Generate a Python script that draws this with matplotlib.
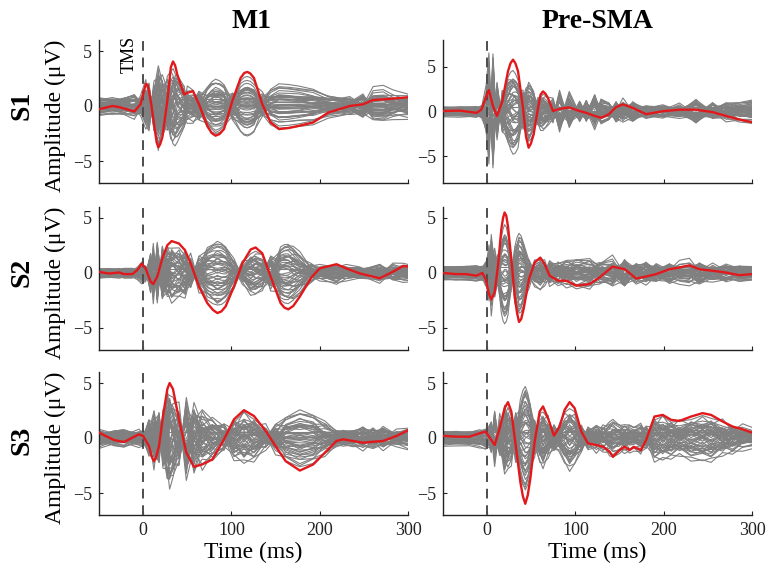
"""Butterfly plots of TMS-evoked potentials: M1 vs Pre-SMA for subjects S1-S3."""

import numpy as np
import matplotlib
matplotlib.use("Agg")
import matplotlib.pyplot as plt

plt.rcParams["font.family"] = ["Liberation Serif", "DejaVu Serif"]
plt.rcParams["axes.unicode_minus"] = True

# ---- data (time in ms, amplitude in uV) ----
# red = highlighted channel, spread = second gray component (channels mix both)
T_S1_M1 = [-50, -35, -27, -10, -3, 1, 3, 4.8, 6.6, 9.5, 12.3, 15.3, 17.2, 19.2, 21.7, 27.4,
           31.3, 33.8, 36.2, 38.7, 46.3, 50, 56.5, 63.3, 72.7, 77.5, 82, 86.5, 91.6, 101,
           110.4, 114.5, 118, 121.5, 125.5, 135, 144.4, 153.8, 165, 176.5, 192.5, 209.5, 234,
           249, 260.5, 272, 283, 300]
RED_S1_M1 = [-0.3, 0.0, -0.1, -0.5, 0.15, 1.4, 2.0, 1.95, 1.4, 0.0, -1.65, -3.3, -3.75, -3.5,
             -2.85, 0.45, 3.5, 4.05, 3.7, 2.85, 1.05, 1.2, 1.35, 0.15, -1.8, -2.45, -2.7, -2.55,
             -2.1, 0.45, 2.55, 3.0, 3.1, 2.95, 2.55, 0.15, -1.5, -2.1, -2.0, -1.8, -1.5, -0.6,
             0.0, 0.15, 0.55, 0.6, 0.67, 0.8]
SPREAD_S1_M1 = [0.2, 0.3, 0.2, -0.3, 0.4, 0.8, 1.0, 0.0, -1.3, 0.2, 1.3, 0.0, -1.2, 0.0, 1.0,
                2.2, 1.0, 0.3, -0.6, -1.2, -1.2, 0.8, 0.3, -0.9, 0.3, 0.2, 0.0, 0.1, 0.2, -0.7,
                0.3, 0.3, 0.3, 0.3, 0.2, 0.8, 0.2, 0.0, 0.0, 0.0, 0.2, 0.3, 0.4, -0.6, 1.1, 1.2,
                0.7, 0.2]

T_S1_PRE = [-50, -31, -12, -6.6, -1, 2, 6.6, 11.2, 17.2, 20.5, 23.6, 26.5, 29.3, 32, 35, 40.6,
            44, 47, 49.5, 52.7, 57.6, 60.5, 63.3, 66, 68.9, 74.6, 82, 93, 104.8, 112.3, 121.8,
            129, 138, 146, 153.8, 165, 180, 199, 217.8, 236.6, 255.4, 270.6, 285.6, 300]
RED_S1_PRE = [0.05, 0.1, -0.15, 0.2, 1.7, 2.4, 0.6, -0.5, 1.15, 2.9, 4.5, 5.4, 5.8, 5.4, 4.5,
              0.4, -2.8, -4.05, -3.6, -2.55, 0.4, 1.9, 2.25, 2.0, 1.5, 0.05, 0.3, 0.45, 0.05,
              -0.15, -0.5, -0.7, -0.3, 0.5, 0.8, 0.4, -0.3, 0.03, 0.2, 0.2, -0.07, -0.5, -0.9,
              -1.2]
SPREAD_S1_PRE = [0.0, 0.1, 0.2, -0.2, 2.0, 5.5, -6.0, 3.0, -1.8, 0.0, 1.0, 0.5, 0.0, -0.3, -0.5,
                 2.0, 0.8, 0.0, 0.3, 0.5, -1.2, -0.5, 0.0, 0.3, 0.5, 1.2, -2.0, 1.8, -0.8, 1.0,
                 -1.5, 1.0, 0.7, -0.7, 0.8, -0.7, 0.3, -0.3, 0.5, -1.0, 0.7, -0.4, 0.2, 0.0]

T_S2_M1 = [-50, -38.7, -27, -21.7, -12.3, -6.6, -1.5, 2.8, 8.5, 11.5, 16, 21.7, 27.4, 32.3,
           40.6, 47.4, 53.8, 63.3, 72.7, 79, 84, 88.5, 93.4, 102.9, 112.3, 121.8, 127.4, 135,
           144.4, 155.7, 160, 164.4, 170, 177.5, 190.7, 200, 219, 230, 245, 268, 283, 294.4,
           300]
RED_S2_M1 = [0.1, -0.05, 0.05, -0.1, -0.1, 0.27, 0.85, 0.42, -0.8, -1.0, -0.33, 1.33, 2.53, 2.9,
             2.68, 2.08, 0.87, -1.23, -2.74, -3.35, -3.64, -3.5, -3.04, -1.23, 0.87, 2.14, 2.32,
             1.78, -0.33, -2.74, -3.15, -3.3, -3.0, -2.14, -0.39, 0.42, 0.8, 0.42, -0.03,
             -0.48, 0.12, 0.63, 0.6]
SPREAD_S2_M1 = [0.0, 0.0, 0.1, 0.0, 0.0, 0.1, 0.3, -0.3, 1.5, -2.2, 2.6, -1.8, 1.0, -0.5, 0.5,
                -0.8, 1.2, -0.8, 0.5, 0.3, 0.0, 0.2, 0.3, -0.3, 0.4, -0.2, 0.3, 0.6, -1.3, 0.6,
                0.5, 0.4, 0.0, -0.3, 0.6, 0.3, -0.2, 0.3, 0.3, -0.3, 0.6, 0.3, 0.2]

T_S2_PRE = [-50, -35, -23.6, -12.3, -5.5, -1.7, 2.1, 4.7, 8.5, 12.3, 16, 18, 19.8, 21.7, 23.6,
            27.4, 31.2, 33.8, 36.1, 38.5, 41.4, 47.4, 53.8, 60.2, 65.1, 70.8, 80.2, 89.7, 101,
            116.1, 127.4, 142, 155.7, 168.8, 180, 191.4, 206.5, 217.8, 229, 240.4, 255.4,
            270.6, 285.6, 300]
RED_S2_PRE = [0.0, -0.1, -0.1, -0.25, 0.0, -0.55, -1.9, -2.4, -1.75, 0.65, 3.95, 5.0, 5.5, 5.2,
              4.25, 1.25, -2.05, -3.6, -4.45, -4.2, -3.25, -0.55, 0.95, 1.4, 0.8, -0.25, -0.7,
              -0.7, -1.16, -1.0, -0.4, 0.58, 0.35, -0.5, -0.32, -0.1, 0.34, 0.5, 0.7, 0.34,
              0.2, 0.04, -0.2, -0.1]
SPREAD_S2_PRE = [0.0, 0.1, 0.0, 0.1, 0.2, -0.3, 1.5, -2.2, 1.2, 1.0, -0.3, -0.2, 0.0, 0.0, -0.3,
                 0.8, -1.0, -0.5, 0.0, 0.2, 0.3, -0.6, 0.3, 0.0, 0.4, -0.6, 0.4, -0.4, 0.3,
                 -0.3, 0.6, 1.0, -0.8, 0.4, -0.4, 0.5, -0.4, 0.5, 0.6, -0.5, 0.4, -0.3, 0.3,
                 0.1]

T_S3_M1 = [-50, -42.5, -33, -21.7, -12.3, -4.7, 0, 6.6, 10, 12.3, 14.5, 18, 22.5, 27.4, 30,
           33.8, 40.6, 48.9, 57.6, 67, 78.4, 91.6, 102.9, 114.2, 125.5, 138.8, 150, 161.4,
           177.5, 192.5, 205.8, 219, 226.5, 237.8, 249, 260.4, 271.8, 286.8, 300]
RED_S3_M1 = [0.5, 0.18, -0.18, -0.37, 0.03, 0.34, 0.18, -0.73, -1.75, -2.1, -1.8, -0.73, 2.0,
             4.45, 5.0, 4.45, 1.7, -1.34, -2.62, -2.4, -1.95, -0.12, 1.7, 2.53, 2.0, 0.64,
             -0.73, -2.1, -2.96, -2.41, -1.34, -0.27, -0.12, -0.27, -0.43, -0.34, -0.27, 0.18,
             0.7]
SPREAD_S3_M1 = [0.1, 0.1, 0.0, 0.0, 0.1, 0.2, -0.2, 1.3, 0.0, -1.2, 0.5, 2.0, -1.5, 2.0, -0.8,
                0.5, 2.2, -3.0, 1.8, -1.0, 0.5, 1.0, -0.6, 0.8, -0.4, 0.6, -0.6, 0.3, 0.0, 0.3,
                -0.3, 0.2, -0.1, 0.2, -0.4, 0.6, -0.5, 0.3, 0.1]

T_S3_PRE = [-50, -35, -19.8, -8.5, -1.7, 4.7, 8.5, 14.2, 19.8, 23.6, 27.4, 32.3, 37.6, 40.5,
            43.2, 46, 48.9, 53.8, 59.5, 63.3, 68.9, 75.7, 82.1, 87.8, 93.4, 99.1, 106.7, 114.2,
            123.7, 131.2, 138.8, 142.5, 150, 155.7, 161.4, 166, 174, 180, 189.5, 198.9, 208.4,
            217.8, 231, 244, 253.6, 266.7, 278, 289.4, 300]
RED_S3_PRE = [0.2, 0.12, 0.12, 0.43, 0.58, -0.18, -0.64, 0.88, 2.71, 3.26, 2.41, -0.64, -4.0,
              -5.3, -5.98, -5.2, -3.7, -0.34, 2.41, 2.87, 1.8, 0.21, 1.04, 2.56, 3.26, 2.71,
              0.58, -0.49, -0.64, -0.79, -1.25, -1.71, -1.1, -0.79, -1.1, -0.8, -1.1, -0.2,
              1.95, 2.1, 1.65, 1.55, 1.95, 2.26, 2.1, 1.5, 1.04, 0.79, 0.49]
SPREAD_S3_PRE = [0.0, 0.1, 0.0, 0.1, -0.2, 1.2, -2.0, 1.5, -1.5, 0.3, -0.5, 2.0, -0.5, -0.3,
                 0.0, 0.2, 0.5, -1.2, 0.6, -0.3, 0.8, -0.8, 0.4, 0.6, -0.2, 0.4, -0.7, 0.6,
                 -0.5, 0.6, -0.3, 0.0, 0.3, -0.4, 0.2, 0.3, -0.2, 0.8, -0.5, 0.6, -0.4, 0.5,
                 -0.3, 0.4, -0.3, 0.6, -0.4, 0.5, 0.3]

# per-channel weights: red component, spread component, constant offset
CHAN_A = [0.75, 0.6, 0.5, 0.4, 0.3, 0.2, 0.1, 0.0, -0.1, -0.2, -0.3, -0.4, -0.5, -0.6, -0.7,
          0.65, 0.45, 0.25, 0.05, -0.15, -0.35, -0.55, -0.75, 0.55, 0.35, 0.15, -0.05, -0.25,
          -0.45, -0.65, 0.7, 0.3, -0.1, -0.5, 0.6, 0.2, -0.2, -0.6, 0.5, 0.0, -0.4, 0.4, -0.3,
          0.1, -0.7, 0.35, -0.15, 0.65]
CHAN_B = [0.2, -0.8, 0.9, -0.3, 0.5, -1.0, 0.7, 0.0, -0.6, 1.0, -0.2, 0.4, -0.9, 0.6, -0.4,
          0.8, -0.5, 0.1, -0.7, 0.3, 0.9, -0.1, 0.5, -0.9, 0.6, -0.4, 1.0, -0.8, 0.2, 0.7,
          -0.3, -0.6, 0.4, 0.8, 0.0, -1.0, 0.5, -0.2, 0.3, 0.95, -0.7, -0.45, 0.65, -0.85,
          0.15, 0.55, -0.35, 0.45]
CHAN_C = [0.3, -0.2, 0.5, -0.6, 0.1, 0.4, -0.4, 0.6, -0.1, 0.2, -0.5, 0.0, 0.35, -0.3, 0.55,
          -0.65, 0.25, -0.15, 0.45, -0.45, 0.05, 0.6, -0.55, 0.15, -0.25, 0.4, -0.35, 0.65,
          -0.05, 0.3, -0.6, 0.5, 0.1, -0.4, 0.2, -0.1, 0.45, -0.7, 0.0, 0.35, -0.2, 0.55,
          -0.5, 0.25, 0.15, -0.3, 0.6, -0.45]

COLUMNS = ["M1", "Pre-SMA"]
SUBJECTS = ["S1", "S2", "S3"]

# (row, col, times, red, spread, offset scale, ylim)
PANELS = [
    (0, 0, T_S1_M1, RED_S1_M1, SPREAD_S1_M1, 1.0, (-7, 6)),
    (0, 1, T_S1_PRE, RED_S1_PRE, SPREAD_S1_PRE, 0.8, (-8, 8)),
    (1, 0, T_S2_M1, RED_S2_M1, SPREAD_S2_M1, 0.6, (-7, 6)),
    (1, 1, T_S2_PRE, RED_S2_PRE, SPREAD_S2_PRE, 0.9, (-7, 6)),
    (2, 0, T_S3_M1, RED_S3_M1, SPREAD_S3_M1, 0.9, (-7, 6)),
    (2, 1, T_S3_PRE, RED_S3_PRE, SPREAD_S3_PRE, 0.9, (-7, 6)),
]

W, H = 767, 568
fig = plt.figure(figsize=(W / 100, H / 100), dpi=100, facecolor="white")

col_x = [99, 443]
row_top = [40, 207, 372]
ax_w, ax_h = 309, 143

for row, col, t, red, spread, oscale, ylim in PANELS:
    left = col_x[col] / W
    bottom = 1 - (row_top[row] + ax_h) / H
    ax = fig.add_axes([left, bottom, ax_w / W, ax_h / H])

    t = np.array(t)
    red = np.array(red)
    spread = np.array(spread)
    for a, b, c in zip(CHAN_A, CHAN_B, CHAN_C):
        ax.plot(t, a * red + b * spread + c * oscale, color="#808080", lw=0.8, zorder=2)

    ax.axvline(0, color="#4d4d4d", ls=(0, (5, 3.5)), lw=1.4, zorder=3)
    ax.plot(t, red, color="#e2191c", lw=1.7, zorder=4)

    ax.set_xlim(-50, 300)
    ax.set_ylim(*ylim)
    ax.set_xticks([0, 100, 200, 300])
    ax.set_yticks([-5, 0, 5])
    ax.spines["top"].set_visible(False)
    ax.spines["right"].set_visible(False)
    for s in ("left", "bottom"):
        ax.spines[s].set_linewidth(1.0)
        ax.spines[s].set_color("#222222")
    ax.tick_params(direction="in", length=3, width=0.8, labelsize=13, colors="#222222",
                   pad=5)
    if row < 2:
        ax.set_xticklabels([])
    else:
        ax.set_xlabel("Time (ms)", fontsize=17, labelpad=2)
    if col == 0:
        ax.set_ylabel("Amplitude (\u03bcV)", fontsize=17)
        ax.yaxis.set_label_coords(-0.107, 0.47)

    if row == 0 and col == 0:
        ax.text(-6, 1.03, "TMS", rotation=90, ha="right", va="top", fontsize=13,
                transform=ax.get_xaxis_transform())

# column titles and subject labels
fig.text(252 / W, 1 - 22 / H, COLUMNS[0], ha="center", va="center", fontsize=20,
         fontweight="bold")
fig.text(598 / W, 1 - 22 / H, COLUMNS[1], ha="center", va="center", fontsize=20,
         fontweight="bold")
for i, y in enumerate([105, 272, 440]):
    fig.text(22 / W, 1 - y / H, SUBJECTS[i], rotation=90, ha="center", va="center",
             fontsize=20, fontweight="bold")

fig.savefig("out.png", dpi=100, facecolor="white")
